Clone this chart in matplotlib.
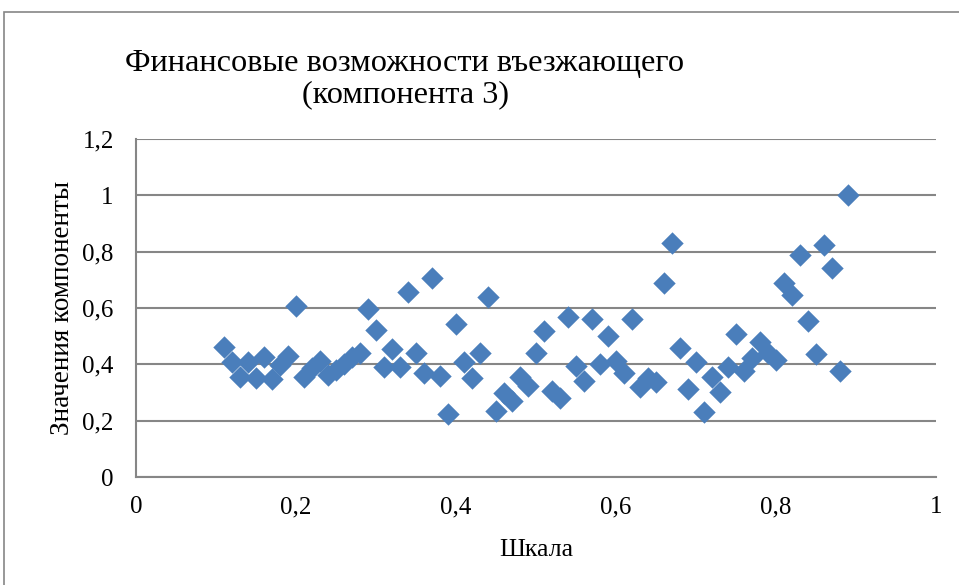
import matplotlib
matplotlib.use("Agg")
import matplotlib.pyplot as plt
from matplotlib.patches import Rectangle

# values
scale = [0.11, 0.12, 0.13, 0.14, 0.15, 0.16, 0.17, 0.18, 0.19, 0.20,
         0.21, 0.22, 0.23, 0.24, 0.25, 0.26, 0.27, 0.28, 0.29, 0.30,
         0.31, 0.32, 0.33, 0.34, 0.35, 0.36, 0.37, 0.38, 0.39, 0.40,
         0.41, 0.42, 0.43, 0.44, 0.45, 0.46, 0.47, 0.48, 0.49, 0.50,
         0.51, 0.52, 0.53, 0.54, 0.55, 0.56, 0.57, 0.58, 0.59, 0.60,
         0.61, 0.62, 0.63, 0.64, 0.65, 0.66, 0.67, 0.68, 0.69, 0.70,
         0.71, 0.72, 0.73, 0.74, 0.75, 0.76, 0.77, 0.78, 0.79, 0.80,
         0.81, 0.82, 0.83, 0.84, 0.85, 0.86, 0.87, 0.88, 0.89]
values = [0.462, 0.407, 0.356, 0.409, 0.350, 0.427, 0.347, 0.398, 0.430, 0.608,
          0.356, 0.386, 0.412, 0.362, 0.380, 0.400, 0.427, 0.441, 0.596, 0.522,
          0.392, 0.454, 0.389, 0.658, 0.439, 0.368, 0.705, 0.360, 0.224, 0.542,
          0.407, 0.350, 0.441, 0.638, 0.235, 0.297, 0.271, 0.354, 0.324, 0.441,
          0.518, 0.305, 0.279, 0.569, 0.395, 0.341, 0.561, 0.400, 0.502, 0.412,
          0.368, 0.561, 0.321, 0.350, 0.338, 0.688, 0.830, 0.459, 0.311, 0.407,
          0.232, 0.356, 0.303, 0.392, 0.507, 0.377, 0.424, 0.478, 0.439, 0.415,
          0.688, 0.646, 0.788, 0.554, 0.437, 0.824, 0.743, 0.377, 1.000]

x_ticks = [0, 0.2, 0.4, 0.6, 0.8, 1]
x_tick_labels = ["0", "0,2", "0,4", "0,6", "0,8", "1"]
y_ticks = [0, 0.2, 0.4, 0.6, 0.8, 1, 1.2]
y_tick_labels = ["0", "0,2", "0,4", "0,6", "0,8", "1", "1,2"]

plt.rcParams["font.family"] = ["Liberation Serif", "DejaVu Serif"]

fig = plt.figure(figsize=(9.59, 5.85), dpi=100)
fig.patches.append(Rectangle((4 / 959, -0.05), 1.1, 1 - 12 / 585 + 0.05,
                             transform=fig.transFigure, fill=False,
                             edgecolor="#868686", linewidth=1.2))

ax = fig.add_axes([136 / 959, 1 - 477 / 585, 800 / 959, 338 / 585])
ax.scatter(scale, values, marker="D", s=130, color="#4A7EBB", zorder=3,
           linewidths=0)

ax.set_xlim(0, 1)
ax.set_ylim(0, 1.2)
ax.set_xticks(x_ticks)
ax.set_xticklabels(x_tick_labels)
ax.set_yticks(y_ticks)
ax.set_yticklabels(y_tick_labels)
ax.tick_params(length=0, labelsize=18, colors="black")
ax.tick_params(axis="x", pad=14)
ax.tick_params(axis="y", pad=16)
ax.yaxis.grid(True, color="#868686", linewidth=1.5)
ax.set_axisbelow(True)
for side in ["top", "right"]:
    ax.spines[side].set_visible(False)
for side in ["left", "bottom"]:
    ax.spines[side].set_color("#868686")
    ax.spines[side].set_linewidth(1.5)

ax.set_xlabel("Шкала", fontsize=18.5, labelpad=15)
ax.set_ylabel("Значения компоненты", fontsize=19.5, labelpad=5)

fig.text(405 / 959, 1 - 79 / 585, "Финансовые возможности въезжающего\n(компонента 3)",
         ha="center", va="center", fontsize=23.3, linespacing=1.12)

fig.savefig("out.png", dpi=100)
plt.close(fig)
